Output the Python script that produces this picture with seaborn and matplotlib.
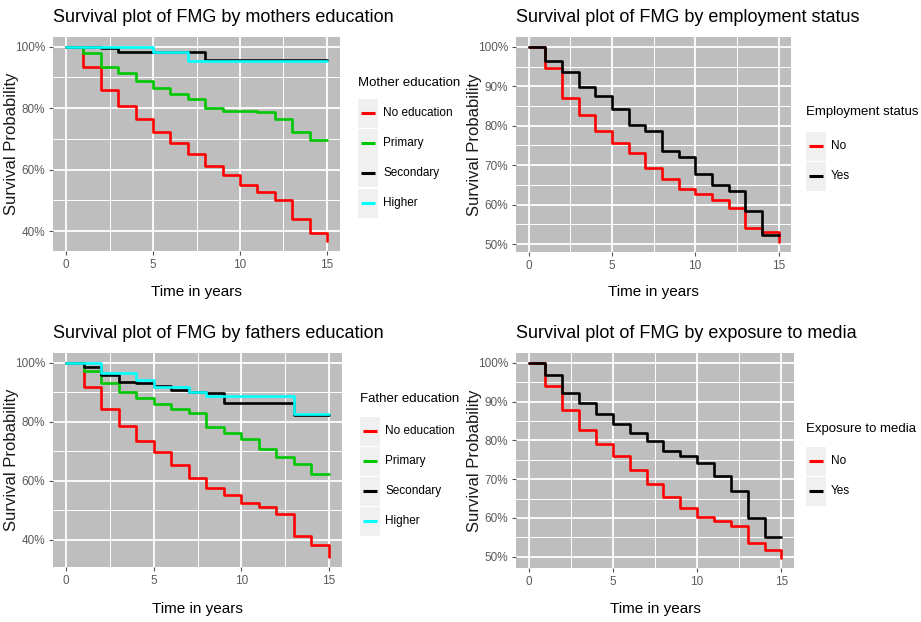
import numpy as np
import pandas as pd
import matplotlib
matplotlib.use("Agg")
import matplotlib.pyplot as plt
import seaborn as sns
from matplotlib.lines import Line2D
from matplotlib.patches import Rectangle
from matplotlib.ticker import FuncFormatter, MultipleLocator
from matplotlib.transforms import blended_transform_factory

# ---------------- data (survival probability in %, value after step at each year) -------------
years = list(range(0, 16))

mother_groups = ["No education", "Primary", "Secondary", "Higher"]
mother_no_education = [100, 93.3, 86.0, 80.8, 76.6, 72.3, 68.8, 65.0, 61.2, 58.3, 54.9, 52.7, 50.0, 43.8, 39.5, 36.7]
mother_primary = [100, 97.8, 93.3, 91.4, 88.9, 86.7, 84.6, 82.9, 80.0, 79.0, 79.0, 78.6, 76.4, 72.1, 69.6, 69.6]
mother_secondary = [100, 100, 99.6, 98.3, 98.3, 98.3, 98.3, 98.3, 95.6, 95.6, 95.6, 95.6, 95.6, 95.6, 95.6, 95.6]
mother_higher = [100, 100, 100, 100, 100, 98.3, 98.3, 95.2, 95.2, 95.2, 95.2, 95.2, 95.2, 95.2, 95.2, 95.2]

employment_groups = ["No", "Yes"]
employment_no = [100, 94.5, 86.9, 82.6, 78.6, 75.7, 73.0, 69.3, 66.6, 64.1, 62.8, 61.3, 59.2, 54.1, 53.0, 50.5]
employment_yes = [100, 96.3, 93.5, 89.9, 87.5, 84.3, 80.3, 78.6, 73.6, 72.0, 67.9, 65.1, 63.4, 58.3, 52.4, 52.4]

father_groups = ["No education", "Primary", "Secondary", "Higher"]
father_no_education = [100, 91.7, 84.4, 78.5, 73.6, 69.6, 65.2, 60.9, 57.5, 55.1, 52.5, 51.1, 48.8, 41.1, 38.2, 34.0]
father_primary = [100, 97.2, 93.2, 90.0, 88.2, 86.0, 84.4, 82.9, 78.1, 76.2, 74.0, 70.9, 68.0, 65.7, 62.1, 62.1]
father_secondary = [100, 98.6, 95.8, 93.5, 93.2, 92.0, 90.8, 90.0, 89.6, 86.4, 86.4, 86.4, 86.4, 82.2, 82.2, 82.2]
father_higher = [100, 99.8, 96.5, 96.4, 94.0, 91.8, 91.8, 90.0, 88.7, 88.7, 88.7, 88.7, 88.7, 82.5, 82.5, 82.5]

media_groups = ["No", "Yes"]
media_no = [100, 94.0, 87.7, 82.6, 79.1, 75.9, 72.4, 68.8, 65.3, 62.5, 60.3, 59.3, 57.9, 53.4, 51.7, 49.6]
media_yes = [100, 96.8, 92.2, 89.7, 86.9, 84.3, 81.9, 79.9, 77.2, 75.9, 74.1, 70.9, 67.0, 59.9, 55.2, 55.2]

titles = ["Survival plot of FMG by mothers education",
          "Survival plot of FMG by employment status",
          "Survival plot of FMG by fathers education",
          "Survival plot of FMG by exposure to media"]
legend_titles = ["Mother education", "Employment status", "Father education", "Exposure to media"]
xlabel = "Time in years"
ylabel = "Survival Probability"

four_colors = ["#ff0000", "#00c800", "#000000", "#00ffff"]
two_colors = ["#ff0000", "#000000"]

# ---------------- styling ----------------
sns.set_theme(style="white")
plt.rcParams["font.family"] = ["Liberation Sans", "DejaVu Sans"]

W, H = 921, 622
fig = plt.figure(figsize=(W / 100, H / 100), dpi=100)
fig.patch.set_facecolor("white")


def fx(x):
    return x / W


def fy(y):
    return 1 - y / H


def frac(x0, y0, x1, y1):
    return [x0 / W, 1 - y1 / H, (x1 - x0) / W, (y1 - y0) / H]


panels = [
    dict(rect=frac(53, 37, 340, 251), groups=mother_groups,
         vals=[mother_no_education, mother_primary, mother_secondary, mother_higher],
         colors=four_colors, step=20, minor=10,
         title_xy=(53, 17), ylab_x=12, xlab_y=292,
         leg_x=358, leg_title_y=83, leg_row0=113),
    dict(rect=frac(516, 37, 791, 252), groups=employment_groups,
         vals=[employment_no, employment_yes], colors=two_colors, step=10, minor=5,
         title_xy=(516, 17), ylab_x=474, xlab_y=292,
         leg_x=806, leg_title_y=112, leg_row0=146),
    dict(rect=frac(53, 353, 342, 567), groups=father_groups,
         vals=[father_no_education, father_primary, father_secondary, father_higher],
         colors=four_colors, step=20, minor=10,
         title_xy=(53, 334), ylab_x=12, xlab_y=609,
         leg_x=360, leg_title_y=399, leg_row0=431),
    dict(rect=frac(516, 353, 794, 568), groups=media_groups,
         vals=[media_no, media_yes], colors=two_colors, step=10, minor=5,
         title_xy=(516, 334), ylab_x=474, xlab_y=609,
         leg_x=806, leg_title_y=429, leg_row0=461),
]

ROW_H = 30
KEY_W = 20

for i, p in enumerate(panels):
    ax = fig.add_axes(p["rect"])
    rows = []
    for g, v in zip(p["groups"], p["vals"]):
        for t, s in zip(years, v):
            rows.append((t, s, g))
    df = pd.DataFrame(rows, columns=["time", "surv", "group"])
    sns.lineplot(data=df, x="time", y="surv", hue="group", hue_order=p["groups"],
                 palette=p["colors"], estimator=None, sort=False, drawstyle="steps-post",
                 linewidth=1.9, legend=False, ax=ax)
    allv = np.concatenate([np.array(v) for v in p["vals"]])
    lo, hi = allv.min(), allv.max()
    pad = (hi - lo) * 0.05
    ax.set_ylim(lo - pad, hi + pad)
    ax.set_xlim(-0.75, 15.75)
    ax.set_facecolor("#bebebe")
    for s in ax.spines.values():
        s.set_visible(False)
    ax.xaxis.set_major_locator(MultipleLocator(5))
    ax.xaxis.set_minor_locator(MultipleLocator(2.5))
    ax.yaxis.set_major_locator(MultipleLocator(p["step"]))
    ax.yaxis.set_minor_locator(MultipleLocator(p["minor"]))
    ax.yaxis.set_major_formatter(FuncFormatter(lambda v, _: f"{v:.0f}%"))
    ax.grid(which="major", color="white", lw=1.3)
    ax.grid(which="minor", color="white", lw=0.7)
    ax.set_axisbelow(True)
    ax.tick_params(which="major", length=3, width=0.8, color="#555555", labelcolor="#5a5a5a",
                   labelsize=8.5, pad=2.5, bottom=True, left=True)
    ax.tick_params(which="minor", length=0, bottom=False, left=False)

    ax.set_xlabel(xlabel, fontsize=11, color="black")
    ax.xaxis.label.set_va("center")
    ax.xaxis.set_label_coords(0.5, fy(p["xlab_y"]),
                              transform=blended_transform_factory(ax.transAxes, fig.transFigure))
    ax.set_ylabel(ylabel, fontsize=12, color="#1a1a1a")
    ax.yaxis.label.set_va("center")
    ax.yaxis.set_label_coords(fx(p["ylab_x"]), 0.5,
                              transform=blended_transform_factory(fig.transFigure, ax.transAxes))

    tx, ty = p["title_xy"]
    fig.text(fx(tx), fy(ty), titles[i], fontsize=13, color="black", ha="left", va="center")

    # legend (ggplot style: grey key boxes)
    lx = p["leg_x"]
    fig.text(fx(lx), fy(p["leg_title_y"]), legend_titles[i], fontsize=9.5, color="black",
             ha="left", va="center")
    for k, (g, c) in enumerate(zip(p["groups"], p["colors"])):
        cy = p["leg_row0"] + k * ROW_H
        fig.add_artist(Rectangle((fx(lx), fy(cy + ROW_H / 2 - 0.5)), KEY_W / W, (ROW_H - 1) / H,
                                 transform=fig.transFigure, facecolor="#f0f0f0", edgecolor="none"))
        fig.add_artist(Line2D([fx(lx + 3), fx(lx + KEY_W - 3)], [fy(cy), fy(cy)],
                              transform=fig.transFigure, color=c, lw=2.2, solid_capstyle="butt"))
        fig.text(fx(lx + KEY_W + 5), fy(cy), g, fontsize=8.5, color="black", ha="left", va="center")

fig.savefig("out.png", dpi=100)
